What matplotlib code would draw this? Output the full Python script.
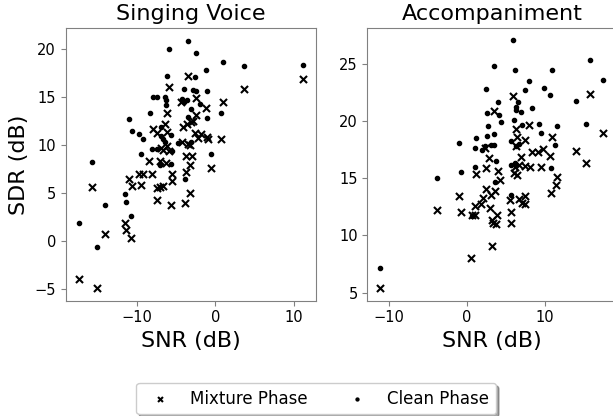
import matplotlib
matplotlib.use('Agg')
import matplotlib.pyplot as plt

# Singing voice: SNR (dB) vs SDR (dB)
voice_mix_snr = [-3.45, -5.96, 11.16, 3.71, -2.47, 1.02, -4.38, -1.19, -6.21, -2.51,
                 -6.42, -3.66, -3.10, -2.80, -7.92, -4.09, -7.45, -6.21, -2.55, -1.87,
                 -2.17, -1.10, -0.98, 0.77, -4.30, -3.45, -3.23, -6.21, -6.97, -6.63,
                 -5.90, -3.74, -3.02, -8.43, -7.06, -6.30, -3.23, -0.55, -9.79, -9.23,
                 -8.09, -10.98, -5.52, -3.74, -5.52, -10.60, -9.45, -7.41, -7.06, -6.68,
                 -15.75, -3.23, -7.45, -5.65, -3.87, -11.57, -11.40, -14.05, -10.73, -17.37,
                 -15.15]
voice_mix_sdr = [17.26, 16.08, 16.88, 15.90, 14.93, 14.48, 14.48, 13.89, 13.40, 13.16,
                 12.22, 12.26, 12.43, 12.50, 11.74, 11.95, 11.32, 11.39, 11.32, 11.22,
                 10.76, 10.87, 10.63, 10.70, 10.31, 10.17, 10.00, 9.90, 9.76, 9.55,
                 9.45, 8.92, 8.92, 8.33, 8.37, 8.16, 7.92, 7.67, 7.05, 7.05,
                 7.05, 6.46, 6.98, 7.26, 6.28, 5.73, 5.90, 5.52, 5.66, 5.80,
                 5.62, 5.07, 4.34, 3.82, 3.99, 1.91, 1.15, 0.73, 0.38, -3.92,
                 -4.86]
voice_clean_snr = [-3.45, -5.96, -2.47, 0.98, 3.71, 11.16, -1.19, -6.21, -2.55, -3.96,
                   -2.81, -2.51, -1.02, -7.92, -7.41, -6.42, -6.30, -4.25, -4.04, -3.58,
                   -6.30, -1.95, -8.30, -3.10, 0.77, -1.02, -10.98, -3.53, -6.97, -10.60,
                   -9.79, -9.19, -6.97, -6.63, -5.65, -6.42, -4.72, -3.15, -8.05, -7.41,
                   -5.52, -15.75, -9.45, -0.55, -7.06, -5.65, -3.87, -11.57, -11.40, -14.05,
                   -10.73, -17.37, -15.15]
voice_clean_sdr = [20.87, 20.00, 19.58, 18.72, 18.27, 18.34, 17.88, 17.19, 17.12, 15.87,
                   15.80, 15.63, 15.63, 15.03, 15.07, 15.03, 14.69, 14.86, 14.48, 14.69,
                   14.17, 14.27, 13.40, 13.82, 13.40, 12.88, 12.78, 12.95, 11.91, 11.53,
                   11.15, 10.63, 10.94, 10.70, 11.05, 10.35, 10.25, 10.31, 9.58, 9.58,
                   9.38, 8.30, 9.10, 9.06, 7.95, 8.02, 6.46, 4.90, 4.10, 3.78,
                   2.64, 1.88, -0.59]

# Accompaniment: SNR (dB) vs SDR (dB)
acc_mix_snr = [5.95, 15.82, 3.47, 8.00, 6.24, 17.44, 10.95, 6.45, 7.40, 2.27,
               6.32, 9.74, 8.33, 9.10, 14.06, 10.69, 2.78, 6.97, 2.50, 3.94,
               6.15, 6.67, 7.40, 8.03, 9.54, 15.22, 1.15, 5.99, 6.45, 4.19,
               11.59, 11.38, 2.50, 3.60, -1.06, 3.04, 10.73, 2.10, 5.56, 6.67,
               7.40, 7.01, 7.44, 0.99, 1.85, 2.96, -3.80, -0.77, 0.60, 1.03,
               3.86, 5.60, 3.25, 3.72, 3.30, 5.69, 3.25, 0.56, -11.23]
acc_mix_sdr = [22.16, 22.33, 20.83, 19.68, 19.34, 18.96, 18.56, 18.56, 18.33, 17.65,
               17.83, 17.59, 17.28, 17.30, 17.40, 16.93, 16.73, 16.86, 15.87, 15.67,
               16.00, 16.15, 16.06, 15.98, 15.98, 16.30, 15.36, 15.47, 15.27, 14.86,
               15.12, 14.40, 14.05, 13.90, 13.44, 13.53, 13.73, 13.30, 13.06, 13.15,
               13.46, 12.83, 12.72, 12.59, 12.74, 12.42, 12.22, 12.07, 11.78, 11.75,
               11.75, 12.07, 11.34, 10.97, 11.11, 11.05, 9.10, 8.05, 5.38]
acc_clean_snr = [5.90, 15.82, 3.42, 6.20, 10.95, 17.44, 7.91, 2.44, 7.40, 9.83,
                 10.60, 3.94, 6.54, 6.24, 6.24, 14.06, 8.33, 6.97, 2.53, 4.15,
                 4.32, 6.03, 2.74, 7.09, 9.19, 11.59, 15.22, 9.54, 2.53, 3.51,
                 1.15, -1.06, 2.27, 3.04, 3.51, 0.99, 1.89, 5.60, 6.32, 6.67,
                 11.33, 3.68, 0.99, 5.60, 6.15, 10.73, -0.81, -3.80, 3.55, 5.69,
                 0.60, -11.23]
acc_clean_sdr = [27.05, 25.30, 24.81, 24.43, 24.46, 23.59, 23.50, 22.83, 22.69, 22.90,
                 22.31, 21.70, 21.70, 21.23, 21.00, 21.75, 21.10, 20.77, 20.71, 20.50,
                 19.95, 20.05, 19.55, 19.67, 19.78, 19.60, 19.75, 18.96, 18.67, 18.87,
                 18.50, 18.06, 17.83, 17.86, 17.86, 17.65, 17.48, 18.26, 17.80, 18.03,
                 17.89, 16.52, 16.00, 16.17, 16.35, 15.85, 15.53, 15.01, 14.69, 13.53,
                 11.72, 7.13]

fig = plt.figure(figsize=(6.13, 4.16), dpi=100)
ax1 = fig.add_axes([0.1072, 0.2772, 0.4078, 0.6548])
ax2 = fig.add_axes([0.5992, 0.2772, 0.4078, 0.6548])

for ax, mx, my, cx, cy, title in [
        (ax1, voice_mix_snr, voice_mix_sdr, voice_clean_snr, voice_clean_sdr, 'Singing Voice'),
        (ax2, acc_mix_snr, acc_mix_sdr, acc_clean_snr, acc_clean_sdr, 'Accompaniment')]:
    ax.scatter(mx, my, marker='x', c='k', s=26, linewidths=1.5, label='Mixture Phase')
    ax.scatter(cx, cy, marker='.', c='k', s=36, label='Clean Phase')
    ax.set_title(title, fontsize=16)
    ax.set_xlabel('SNR (dB)', fontsize=16)
    ax.tick_params(labelsize=10.5, color='0.5')
    for sp in ax.spines.values():
        sp.set_color('0.5')

ax1.set_ylabel('SDR (dB)', fontsize=16)
ax1.set_xlim(-19.1, 12.8)
ax1.set_ylim(-6.2, 22.2)
ax1.set_xticks([-10, 0, 10])
ax1.set_yticks([-5, 0, 5, 10, 15, 20])
ax2.set_xlim(-12.8, 19.3)
ax2.set_ylim(4.3, 28.1)
ax2.set_xticks([-10, 0, 10])
ax2.set_yticks([5, 10, 15, 20, 25])

handles, labels = ax1.get_legend_handles_labels()
fig.legend(handles, labels, loc='upper center', bbox_to_anchor=(0.516, 0.099),
           ncol=2, fontsize=12, shadow=True, columnspacing=2.0, markerscale=0.7)

fig.savefig('out.png', dpi=100)
